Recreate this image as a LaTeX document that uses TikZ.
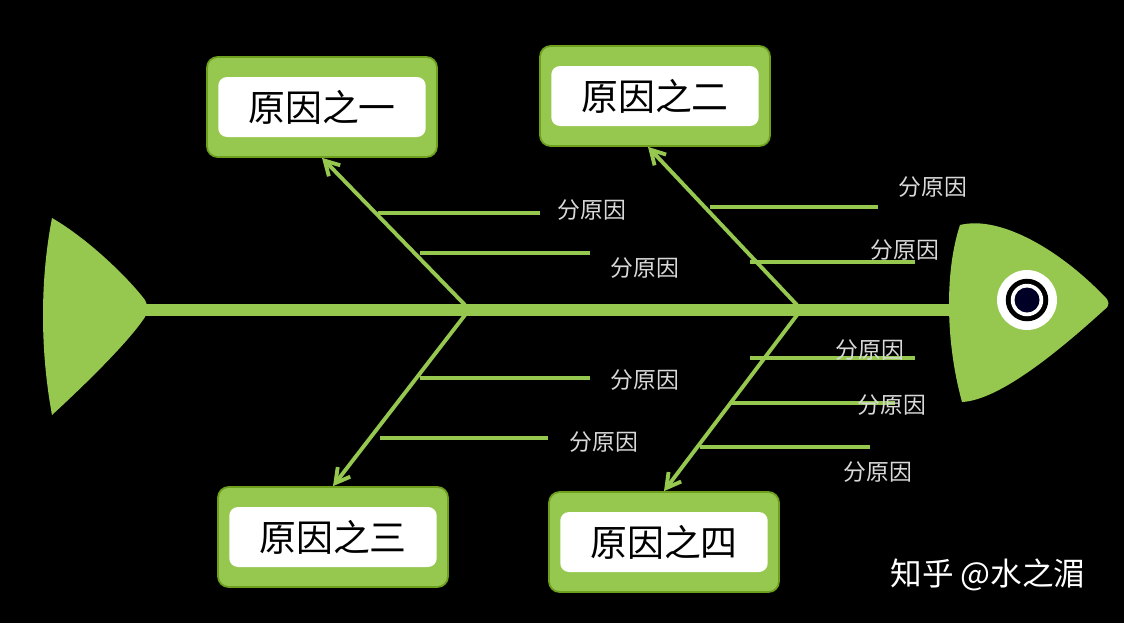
\documentclass[tikz,border=0pt]{standalone}
\usepackage{fontspec}
\newfontfamily\cjk{Noto Sans CJK SC}
\usetikzlibrary{arrows.meta}
\definecolor{fg}{RGB}{150,200,80}
\definecolor{fgd}{RGB}{110,160,30}
\begin{document}
\begin{tikzpicture}[x=0.02cm,y=-0.02cm,
  bone/.style={fg,line width=2.2pt},
  arr/.style={bone,-{Straight Barb[length=8pt,width=9pt]}},
  sub/.style={font=\cjk\fontsize{13}{15}\selectfont,text=white!85!black},
  box/.style={draw=fgd,line width=1pt,fill=fg,rounded corners=6pt,minimum width=4.6cm,minimum height=2cm},
  inner/.style={fill=white,rounded corners=5pt,minimum width=4.15cm,minimum height=1.2cm,font=\cjk\fontsize{21}{24}\selectfont}]
\fill[black] (0,0) rectangle (1124,623);
\useasboundingbox (0,0) rectangle (1124,623);
% tail
\fill[fg] (52,218) .. controls (90,240) and (130,280) .. (145,300) .. controls (148,305) and (148,312) .. (145,317) .. controls (130,340) and (90,380) .. (52,415) .. controls (40,350) and (40,280) .. (52,218) -- cycle;
% spine
\draw[fg,line width=7pt] (145,310) -- (965,310);
% head
\fill[fg] (960,225) .. controls (1000,215) and (1060,250) .. (1104,296) .. controls (1110,301) and (1110,306) .. (1104,310) .. controls (1060,350) and (1000,400) .. (962,402) .. controls (945,340) and (945,270) .. (960,225) -- cycle;
\node[circle,fill=white,minimum size=1.2cm,inner sep=0] (eye) at (1027,300) {};
\node[circle,fill=black,minimum size=0.85cm,inner sep=0] at (eye) {};
\node[circle,fill=white,minimum size=0.65cm,inner sep=0] at (eye) {};
\node[circle,fill=black!85!blue,minimum size=0.5cm,inner sep=0] at (eye) {};
% boxes
\node[box] (b1) at (322,107) {}; \node[inner] at (b1) {原因之一};
\node[box] (b2) at (655,96) {}; \node[inner] at (b2) {原因之二};
\node[box] (b3) at (333,537) {}; \node[inner] at (b3) {原因之三};
\node[box] (b4) at (664,542) {}; \node[inner] at (b4) {原因之四};
% main bones
\coordinate (j1) at (465,305); \coordinate (j2) at (797,305);
\coordinate (k1) at (465,315); \coordinate (k2) at (797,315);
\draw[arr] (j1) -- (b1.south);
\draw[arr] (j2) -- (b2.south -| 648,0);
\draw[arr] (k1) -- (b3.north);
\draw[arr] (k2) -- (b4.north);
% sub bones
\draw[bone] (378,213) -- (540,213); \node[sub] at (592,210) {分原因};
\draw[bone] (420,253) -- (590,253); \node[sub] at (645,268) {分原因};
\draw[bone] (710,207) -- (878,207); \node[sub] at (933,187) {分原因};
\draw[bone] (750,262) -- (915,262); \node[sub] at (905,250) {分原因};
\draw[bone] (420,378) -- (590,378); \node[sub] at (645,380) {分原因};
\draw[bone] (380,438) -- (548,438); \node[sub] at (604,442) {分原因};
\draw[bone] (750,358) -- (915,358); \node[sub] at (870,350) {分原因};
\draw[bone] (730,403) -- (895,403); \node[sub] at (892,405) {分原因};
\draw[bone] (700,447) -- (870,447); \node[sub] at (878,472) {分原因};
\node[font=\cjk\fontsize{18}{20}\selectfont,text=white] at (988,575) {知乎 @水之湄};
\end{tikzpicture}
\end{document}
